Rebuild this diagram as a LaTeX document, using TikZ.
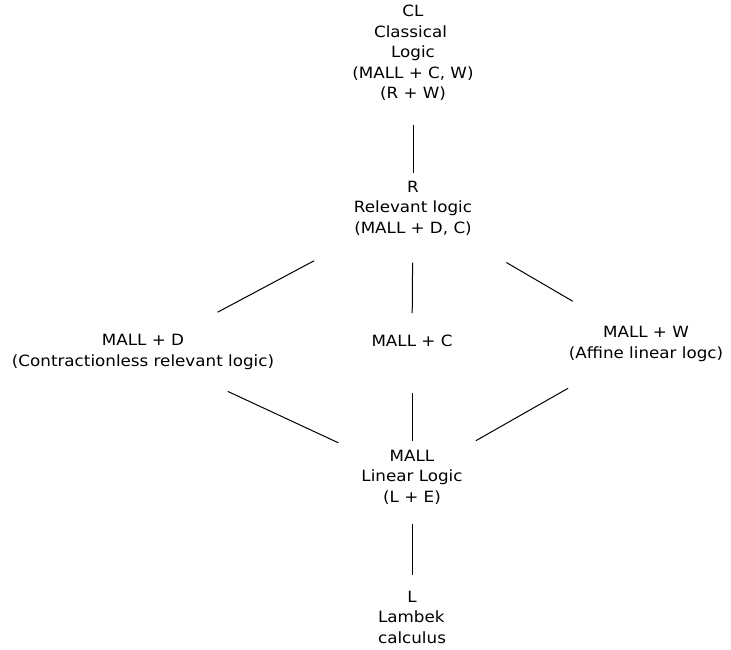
\documentclass[tikz,border=0pt]{standalone}
\usepackage{fontspec}
\setmainfont{DejaVu Sans}[FakeStretch=1.08]
\usetikzlibrary{calc}
\begin{document}
\begin{tikzpicture}[x=1pt,y=-1pt,
  lbl/.style={align=center, inner sep=0pt, font=\fontsize{15.5}{20.5}\selectfont},
  link/.style={draw=black, line width=1pt}]
\useasboundingbox (0,0) rectangle (731,650);
\node[lbl] (CL) at (413,53) {CL\\Classical\kern5pt\\Logic\\(MALL + C, W)\\(R + W)};
\node[lbl] (R) at (413,208) {R\\Relevant logic\\(MALL + D, C)};
\node[lbl] (D) at (143,352) {MALL + D\\(Contractionless relevant logic)};
\node[lbl] (C) at (412,341) {MALL + C};
\node[lbl] (W) at (646,344) {MALL + W\\(Affine linear logc)};
\node[lbl] (M) at (412,477) {MALL\\Linear Logic\\(L + E)};
\node[lbl] (L) at (412,617) {L\\\rlap{Lambek}\phantom{calculus}\\calculus};
\draw[link] ($(CL.center)!0.464!(R.center)$) -- ($(CL.center)!0.771!(R.center)$);
\draw[link] ($(R.center)!0.366!(D.center)$) -- ($(R.center)!0.724!(D.center)$);
\draw[link] ($(R.center)!0.41!(C.center)$) -- ($(R.center)!0.791!(C.center)$);
\draw[link] ($(R.center)!0.401!(W.center)$) -- ($(R.center)!0.686!(W.center)$);
\draw[link] ($(D.center)!0.315!(M.center)$) -- ($(D.center)!0.726!(M.center)$);
\draw[link] ($(C.center)!0.385!(M.center)$) -- ($(C.center)!0.733!(M.center)$);
\draw[link] ($(W.center)!0.333!(M.center)$) -- ($(W.center)!0.727!(M.center)$);
\draw[link] ($(M.center)!0.333!(L.center)$) -- ($(M.center)!0.702!(L.center)$);
\end{tikzpicture}
\end{document}
